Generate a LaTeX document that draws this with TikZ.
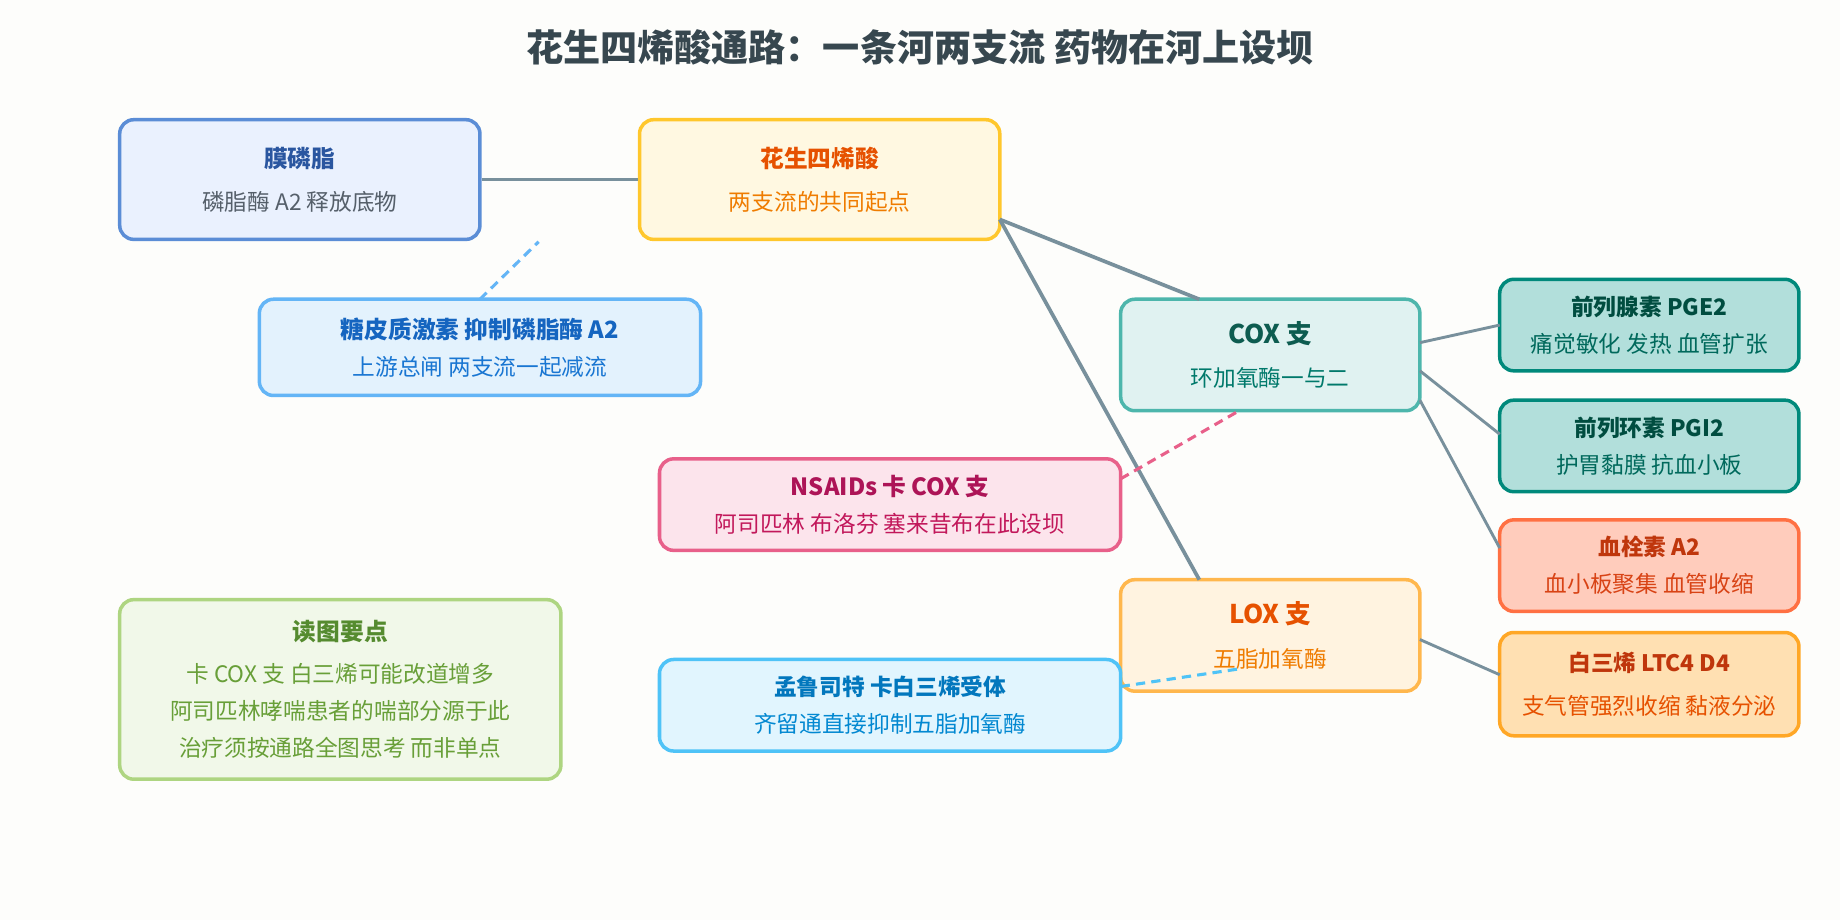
\documentclass[tikz,border=0pt]{standalone}
\usepackage{fontspec}
\setmainfont{Noto Sans CJK SC}
\begin{document}
\begin{tikzpicture}[x=0.02cm,y=-0.02cm,
 box/.style={draw,rounded corners=0.24cm,line width=1.7pt,inner sep=0pt},
 edge/.style={draw=c0,line width=1.8pt},
 dsh/.style={line width=1.5pt,dash pattern=on 4.5pt off 3pt}]
\definecolor{c0}{HTML}{78909C}
\definecolor{ttl}{HTML}{37474F}
\definecolor{bg}{HTML}{FDFDFB}
\fill[bg] (0,0) rectangle (1568,784);
\useasboundingbox (0,0) rectangle (1568,784);
\node[font=\bfseries\fontsize{18}{21}\selectfont,text=ttl] (title) at (784,40) {花生四烯酸通路：一条河两支流 药物在河上设坝};
\newcommand\bx[9]{%
 \definecolor{f#1}{HTML}{#6}\definecolor{b#1}{HTML}{#7}%
 \node[box,fill=f#1,draw=b#1,minimum width={(#4-#2)*0.02cm},minimum height={(#5-#3)*0.02cm}] (#1) at ({(#2+#4)/2},{(#3+#5)/2}) {};
 \node[align=center,text=#8,font=\fontsize{11}{13}\selectfont] (#1t) at ({(#2+#4)/2},{(#3+#5)/2}) {#9};}
\definecolor{t1}{HTML}{2A56A0}\definecolor{s1}{HTML}{555F6A}
\definecolor{t2}{HTML}{E65100}\definecolor{s2}{HTML}{EF7C00}
\definecolor{t3}{HTML}{1565C0}\definecolor{s3}{HTML}{1976D2}
\definecolor{t4}{HTML}{0D5C50}\definecolor{s4}{HTML}{00796B}
\definecolor{t5}{HTML}{004D40}\definecolor{s5}{HTML}{00695C}
\definecolor{t6}{HTML}{BF360C}\definecolor{s6}{HTML}{D84315}
\definecolor{t7}{HTML}{AD1457}\definecolor{s7}{HTML}{C2185B}
\definecolor{t8}{HTML}{0277BD}\definecolor{s8}{HTML}{0288D1}
\definecolor{t9}{HTML}{558B2F}\definecolor{s9}{HTML}{689F38}
\definecolor{s10}{HTML}{E65100}
\bx{mem}{102}{102}{409}{204}{EAF1FE}{5B8DD6}{s1}{\textbf{\textcolor{t1}{\fontsize{11.5}{14}\selectfont 膜磷脂}}\\[8pt]磷脂酶 A2 释放底物}
\bx{aa}{545}{102}{852}{204}{FFF8E1}{FFC72C}{s2}{\textbf{\textcolor{t2}{\fontsize{11.5}{14}\selectfont 花生四烯酸}}\\[8pt]两支流的共同起点}
\bx{glu}{221}{255}{597}{337}{E3F2FD}{64B5F6}{s3}{\textbf{\textcolor{t3}{\fontsize{11.5}{14}\selectfont 糖皮质激素 抑制磷脂酶 A2}}\\[5pt]上游总闸 两支流一起减流}
\bx{cox}{955}{255}{1210}{350}{E0F2F1}{4DB6AC}{s4}{\textbf{\textcolor{t4}{\fontsize{12.5}{15}\selectfont COX 支}}\\[8pt]环加氧酶一与二}
\bx{pge}{1278}{238}{1533}{316}{B2DFDB}{00897B}{s5}{\textbf{\textcolor{t5}{\fontsize{11}{13}\selectfont 前列腺素 PGE2}}\\[5pt]痛觉敏化 发热 血管扩张}
\bx{pgi}{1278}{341}{1533}{419}{B2DFDB}{00897B}{s5}{\textbf{\textcolor{t5}{\fontsize{11}{13}\selectfont 前列环素 PGI2}}\\[5pt]护胃黏膜 抗血小板}
\bx{txa}{1278}{443}{1533}{521}{FFCCBC}{FF7043}{s6}{\textbf{\textcolor{t6}{\fontsize{11}{13}\selectfont 血栓素 A2}}\\[5pt]血小板聚集 血管收缩}
\bx{lt}{1278}{539}{1533}{627}{FFE0B2}{FFA726}{s10}{\textbf{\textcolor{t6}{\fontsize{11}{13}\selectfont 白三烯 LTC4 D4}}\\[8pt]支气管强烈收缩 黏液分泌}
\bx{nsa}{562}{391}{955}{469}{FCE4EC}{E8608A}{s7}{\textbf{\textcolor{t7}{\fontsize{11.5}{14}\selectfont NSAIDs 卡 COX 支}}\\[5pt]阿司匹林 布洛芬 塞来昔布在此设坝}
\bx{lox}{955}{494}{1210}{589}{FFF3E0}{FFB74D}{s2}{\textbf{\textcolor{t2}{\fontsize{12.5}{15}\selectfont LOX 支}}\\[8pt]五脂加氧酶}
\bx{mon}{562}{562}{955}{640}{E1F5FE}{4FC3F7}{s8}{\textbf{\textcolor{t8}{\fontsize{11}{13}\selectfont 孟鲁司特 卡白三烯受体}}\\[5pt]齐留通直接抑制五脂加氧酶}
\bx{key}{102}{511}{478}{664}{F1F8E9}{AED581}{s9}{\textbf{\textcolor{t9}{\fontsize{11.5}{14}\selectfont 读图要点}}\\[7pt]卡 COX 支 白三烯可能改道增多\\[5pt]阿司匹林哮喘患者的喘部分源于此\\[5pt]治疗须按通路全图思考 而非单点}
\coordinate (aaR) at (852,187);
\draw[edge] (mem.east) -- (aa.west);
\draw[edge] (aaR) -- (1022,255) coordinate (coxT);
\draw[edge] (aaR) -- (1022,494) coordinate (loxT);
\draw[edge,line width=1.4pt] (1210,292) -- (1278,277);
\draw[edge,line width=1.4pt] (1210,316) -- (1278,370);
\draw[edge,line width=1.4pt] (1210,341) -- (1278,467);
\draw[edge,line width=1.4pt] (1210,545) -- (1278,575);
\coordinate (g1) at (459,206);
\coordinate (n1) at (1056,350);
\coordinate (m1) at (1056,570);
\draw[dsh,draw=bglu] (409,255) -- (g1);
\draw[dsh,draw=bnsa] (955,408) -- (n1);
\draw[dsh,draw=bmon] (955,585) -- (m1);
\end{tikzpicture}
\end{document}
